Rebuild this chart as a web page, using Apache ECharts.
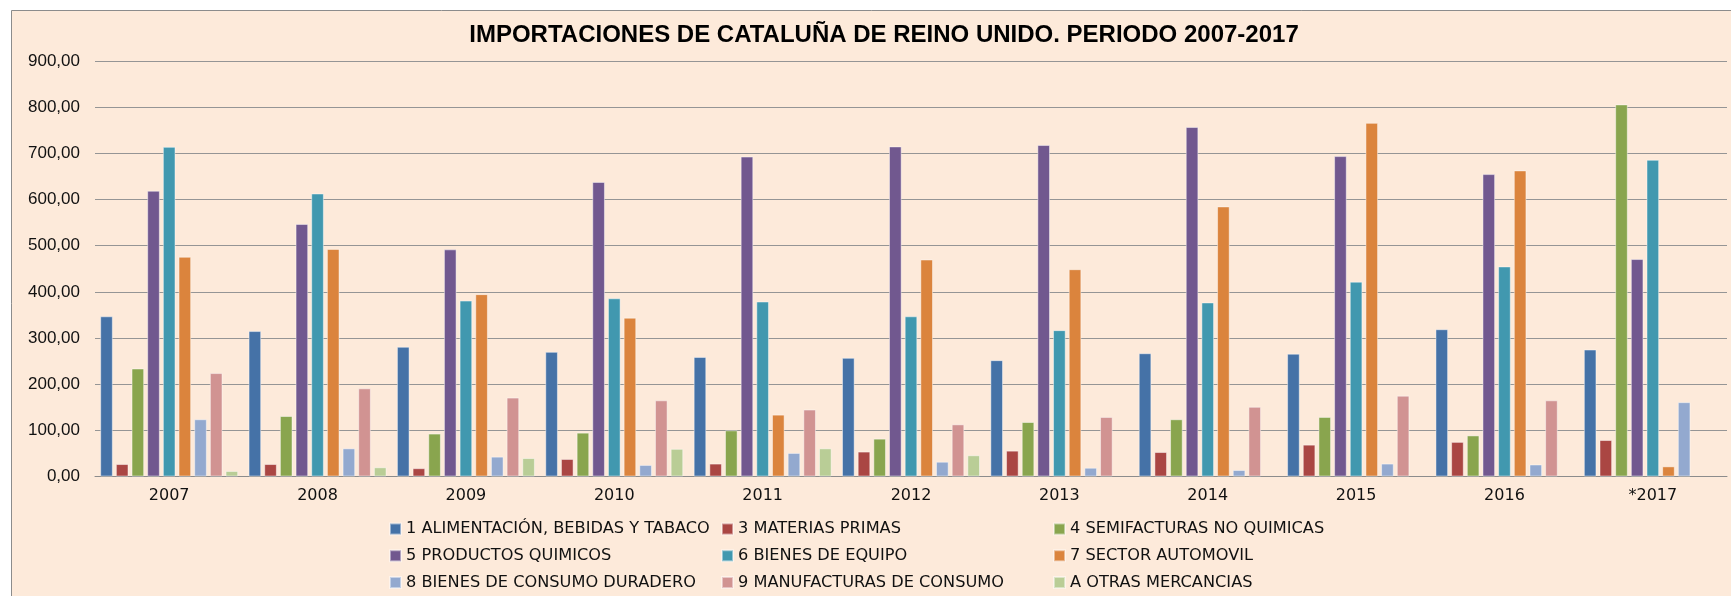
<!DOCTYPE html>
<html>
<head>
<meta charset="utf-8">
<script src="https://cdn.jsdelivr.net/npm/echarts@6/dist/echarts.min.js"></script>
<style>
  html, body { margin: 0; padding: 0; background: #ffffff; }
  #chart { width: 1731px; height: 596px; }
</style>
</head>
<body>
<div id="chart"></div>
<script>
// Imports of Catalonia from the United Kingdom, by product group (2007-2017)
var years = ['2007', '2008', '2009', '2010', '2011', '2012', '2013', '2014', '2015', '2016', '*2017'];

var alimentacion = [347, 315, 281, 270, 259, 257, 252, 267, 266, 319, 275];
var materiasPrimas = [27, 27, 18, 38, 28, 54, 56, 53, 69, 75, 79];
var semifacturas = [234, 131, 93, 95, 100, 82, 118, 124, 129, 89, 806];
var quimicos = [619, 547, 492, 638, 693, 715, 718, 757, 694, 655, 471];
var bienesEquipo = [714, 613, 381, 386, 379, 347, 317, 377, 422, 455, 686];
var automovil = [476, 493, 395, 344, 134, 470, 449, 585, 766, 663, 22];
var consumoDuradero = [124, 61, 43, 25, 51, 32, 19, 14, 28, 26, 161];
var manufacturas = [224, 191, 171, 165, 145, 113, 129, 151, 175, 165, null];
var otras = [12, 20, 40, 60, 61, 46, null, null, null, null, null];

var seriesDefs = [
  { name: '1 ALIMENTACIÓN, BEBIDAS Y TABACO', data: alimentacion, color: '#4572A7' },
  { name: '3 MATERIAS PRIMAS', data: materiasPrimas, color: '#AA4643' },
  { name: '4 SEMIFACTURAS NO QUIMICAS', data: semifacturas, color: '#89A54E' },
  { name: '5 PRODUCTOS QUIMICOS', data: quimicos, color: '#71588F' },
  { name: '6 BIENES DE EQUIPO', data: bienesEquipo, color: '#4198AF' },
  { name: '7 SECTOR AUTOMOVIL', data: automovil, color: '#DB843D' },
  { name: '8 BIENES DE CONSUMO DURADERO', data: consumoDuradero, color: '#93A9CF' },
  { name: '9 MANUFACTURAS DE CONSUMO', data: manufacturas, color: '#D19392' },
  { name: 'A OTRAS MERCANCIAS', data: otras, color: '#B9CD96' }
];

var chart = echarts.init(document.getElementById('chart'), null, { renderer: 'canvas' });

var legendText = { fontFamily: 'DejaVu Sans', fontSize: 16.2, color: '#111111', lineHeight: 16 };
// three legend columns, three entries each
function legendColumn(left, names) {
  return {
    orient: 'vertical',
    left: left,
    top: 521,
    padding: 0,
    itemWidth: 11,
    itemHeight: 11,
    itemGap: 10.8,
    icon: 'rect',
    textStyle: legendText,
    data: names
  };
}

var option = {
  backgroundColor: '#ffffff',
  animation: false,
  graphic: [{
    type: 'rect',
    z: -10,
    silent: true,
    shape: { x: 11.5, y: 10.5, width: 1800, height: 700 },
    style: { fill: '#FDEADA', stroke: '#8c8c8c', lineWidth: 1 }
  }],
  title: {
    text: 'IMPORTACIONES DE CATALUÑA DE REINO UNIDO. PERIODO 2007-2017',
    left: 879,
    top: 18,
    textAlign: 'center',
    textStyle: { fontFamily: 'Liberation Sans', fontWeight: 'bold', fontSize: 24, color: '#000000' }
  },
  legend: [
    legendColumn(389, [seriesDefs[0].name, seriesDefs[3].name, seriesDefs[6].name]),
    legendColumn(721, [seriesDefs[1].name, seriesDefs[4].name, seriesDefs[7].name]),
    legendColumn(1053, [seriesDefs[2].name, seriesDefs[5].name, seriesDefs[8].name])
  ],
  grid: { left: 95, right: 4, top: 61, bottom: 119.5, containLabel: false },
  xAxis: {
    type: 'category',
    data: years,
    axisTick: { show: false },
    axisLine: { lineStyle: { color: '#8c8c8c', width: 1 } },
    axisLabel: { fontFamily: 'DejaVu Sans', fontSize: 16, color: '#111111', margin: 11 }
  },
  yAxis: {
    type: 'value',
    min: 0,
    max: 900,
    interval: 100,
    axisLine: { show: false },
    axisTick: { show: false },
    splitLine: { lineStyle: { color: '#959595', width: 1 } },
    axisLabel: {
      fontFamily: 'Liberation Sans',
      fontSize: 17,
      color: '#111111',
      margin: 15,
      formatter: function (v) { return v.toFixed(2).replace('.', ','); }
    }
  },
  series: seriesDefs.map(function (s) {
    return {
      name: s.name,
      type: 'bar',
      data: s.data,
      barGap: '24%',
      barCategoryGap: '7%',
      itemStyle: { color: s.color, borderColor: 'rgba(255,255,255,0.45)', borderWidth: 1 }
    };
  })
};

chart.setOption(option);
</script>
</body>
</html>
